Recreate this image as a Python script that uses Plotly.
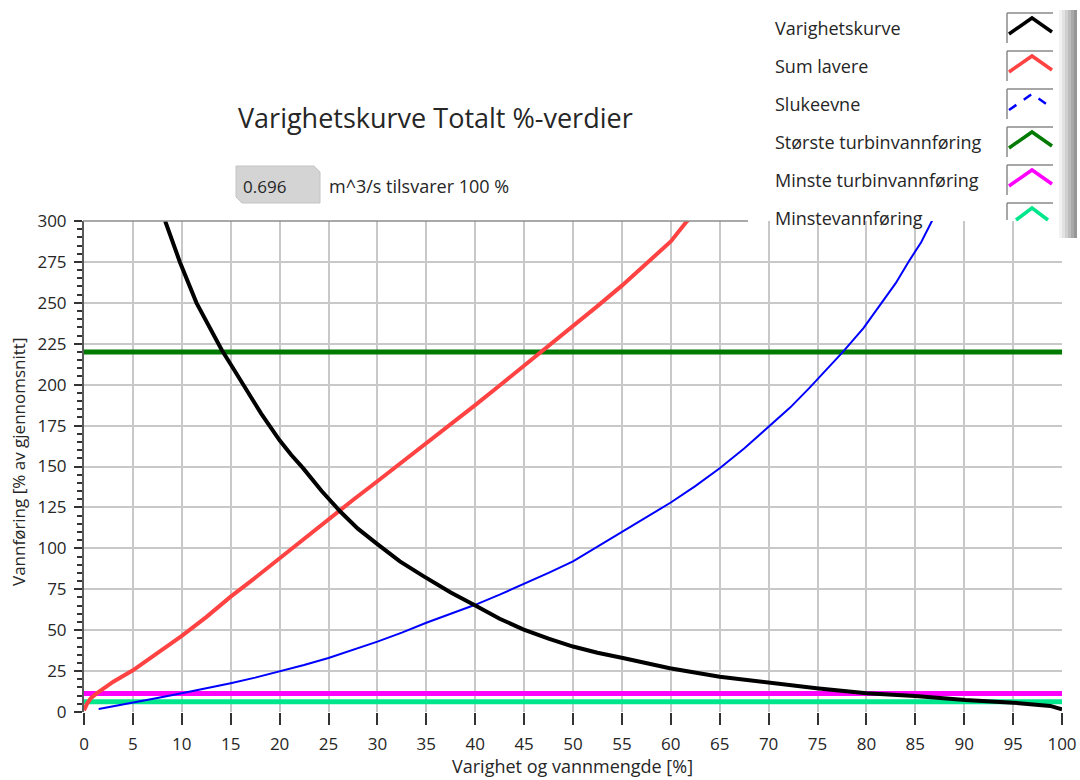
import plotly.graph_objects as go

# ---------------- data ----------------
varighet_x = [8.3, 9.8, 11.5, 12.8, 14.1, 15.2, 16.3, 18.1, 20.0, 21.2, 22.4, 24.3, 26.2,
              28.0, 29.9, 32.3, 34.7, 37.5, 40.2, 42.5, 44.9, 47.5, 50.0, 52.5, 55.1,
              57.5, 59.9, 65.0, 69.8, 74.9, 80.0, 85.0, 90.1, 95.0, 98.8, 99.5, 100.0]
varighet_y = [300, 275, 250, 235, 221, 210.5, 200, 182.5, 166, 157, 149, 135, 122.5,
              112, 103, 92, 83, 73, 64.5, 57, 50.5, 44.8, 40, 36.2, 33,
              29.6, 26.7, 21.6, 17.9, 14.5, 11.4, 9.8, 7.3, 5.7, 3.7, 2.8, 1.6]

sum_lavere_x = [0, 0.3, 0.7, 1.3, 3, 5, 7.5, 10, 12.5, 15, 17.5, 20, 22.5, 25, 27.5,
                30, 32.5, 35, 37.5, 40, 42.5, 45, 46.6, 50, 52.5, 55, 57.5, 60, 61.6, 62.0]
sum_lavere_y = [1, 5, 8.5, 11.4, 18.5, 25.5, 36, 46.5, 58, 70.5, 82, 94, 106, 118, 129.5,
                141, 152.5, 164, 176, 187.5, 199.5, 211.5, 219.5, 235.5, 248, 260.5, 274,
                287.5, 299.5, 302]

slukeevne_x = [1.5, 5, 7.5, 10, 12.5, 15, 17.5, 20, 22.5, 25, 27.5, 30, 32.5, 35,
               37.5, 40, 42.5, 45, 47.5, 50, 52.5, 55, 57.5, 60, 62.5, 65, 67.5, 70,
               72.2, 74.2, 76.0, 77.6, 79.7, 81.6, 83.0, 84.3, 85.6, 86.7, 86.9]
slukeevne_y = [1.8, 5.5, 8.5, 11.4, 14.3, 17.6, 21, 24.8, 28.7, 33, 37.8, 43, 48.5, 54.5,
               60, 65.5, 71.7, 78.3, 85, 92, 101, 110, 119, 128, 138, 148.9, 161, 174,
               186, 198.2, 209.5, 220, 234.5, 250, 262, 275, 287, 300, 302]

storste_turbin = 220
minste_turbin = 11.3
minstevannforing = 6.2
x_span = [0, 100]

x_ticks = list(range(0, 101, 5))
y_ticks = list(range(0, 301, 25))

legend_names = ["Varighetskurve", "Sum lavere", "Slukeevne", "Største turbinvannføring",
                "Minste turbinvannføring", "Minstevannføring"]
legend_colors = ["#000000", "#ff4242", "#0000ff", "#007a00", "#ff00ff", "#00e68c"]

title_text = "Varighetskurve Totalt %-verdier"
numeric_value = "0.696"
numeric_label = "m^3/s tilsvarer 100 %"
x_title = "Varighet og vannmengde [%]"
y_title = "Vannføring [% av gjennomsnitt]"

# ---------------- figure ----------------
W, H = 1080, 780
L, R, T, B = 84, 1062, 221, 712  # plot area in pixels


def px(x):
    return (x - L) / (R - L)


def py(y):
    return (B - y) / (B - T)


FONT = "Open Sans"
TXT = "#262626"

fig = go.Figure()

# horizontal reference lines first (curves drawn on top)
fig.add_trace(go.Scatter(x=x_span, y=[storste_turbin] * 2, mode="lines",
                         line=dict(color=legend_colors[3], width=5), name=legend_names[3]))
fig.add_trace(go.Scatter(x=x_span, y=[minste_turbin] * 2, mode="lines",
                         line=dict(color=legend_colors[4], width=5), name=legend_names[4]))
fig.add_trace(go.Scatter(x=x_span, y=[minstevannforing] * 2, mode="lines",
                         line=dict(color=legend_colors[5], width=5), name=legend_names[5]))
fig.add_trace(go.Scatter(x=slukeevne_x, y=slukeevne_y, mode="lines",
                         line=dict(color=legend_colors[2], width=2), name=legend_names[2]))
fig.add_trace(go.Scatter(x=sum_lavere_x, y=sum_lavere_y, mode="lines",
                         line=dict(color=legend_colors[1], width=4), name=legend_names[1]))
fig.add_trace(go.Scatter(x=varighet_x, y=varighet_y, mode="lines",
                         line=dict(color=legend_colors[0], width=4), name=legend_names[0]))

shapes = []
annotations = []

# top frame line (stops where the legend panel begins)
shapes.append(dict(type="line", xref="paper", yref="paper", x0=px(L - 1), x1=px(748),
                   y0=1, y1=1, line=dict(color="#8c8c8c", width=1.5), layer="above"))

# title
annotations.append(dict(text=title_text, xref="paper", yref="paper", x=px(435), y=py(118),
                        showarrow=False, xanchor="center", yanchor="middle",
                        font=dict(family=FONT, size=27, color=TXT)))

# numeric control
path = "M {} {} L {} {} L {} {} L {} {} L {} {} L {} {} Z".format(
    px(236), py(166), px(314), py(166), px(320), py(172), px(320), py(203),
    px(242), py(203), px(236), py(197))
shapes.append(dict(type="path", xref="paper", yref="paper", path=path,
                   fillcolor="#d4d4d4", line=dict(color="#c4c4c4", width=1)))
annotations.append(dict(text=numeric_value, xref="paper", yref="paper", x=px(241), y=py(186),
                        showarrow=False, xanchor="left", yanchor="middle",
                        font=dict(family=FONT, size=17, color=TXT)))
annotations.append(dict(text=numeric_label, xref="paper", yref="paper", x=px(327), y=py(186),
                        showarrow=False, xanchor="left", yanchor="middle",
                        font=dict(family=FONT, size=18, color=TXT)))

# custom legend panel
row_tops = [13, 51, 89, 127, 165, 203]
for i, (name, col) in enumerate(zip(legend_names, legend_colors)):
    t = row_tops[i]
    annotations.append(dict(text=name, xref="paper", yref="paper", x=px(773), y=py(t + 15),
                            showarrow=False, xanchor="left", yanchor="middle",
                            font=dict(family=FONT, size=18, color=TXT)))
    bottom = min(t + 30, 220)
    shapes.append(dict(type="line", xref="paper", yref="paper", x0=px(1007), x1=px(1053),
                       y0=py(t), y1=py(t), line=dict(color="#8a8a8a", width=1.5)))
    shapes.append(dict(type="line", xref="paper", yref="paper", x0=px(1007), x1=px(1007),
                       y0=py(t), y1=py(bottom), line=dict(color="#8a8a8a", width=1.5)))
    if i < 5:
        cpath = "M {} {} L {} {} L {} {}".format(px(1009), py(t + 21), px(1032), py(t + 5),
                                                 px(1052), py(t + 19))
    else:
        cpath = "M {} {} L {} {} L {} {}".format(px(1016), py(220), px(1032), py(t + 5),
                                                 px(1048), py(220))
    dash = "dash" if i == 2 else "solid"
    shapes.append(dict(type="path", xref="paper", yref="paper", path=cpath,
                       line=dict(color=col, width=3.5 if i != 2 else 2.5, dash=dash)))

# scrollbar (grey gradient strips)
strip_cols = ["#f2f2f2", "#e2e2e2", "#d0d0d0", "#bdbdbd", "#a9a9a9", "#969696"]
sx0, sw = 1059, 3
for k, c in enumerate(strip_cols):
    shapes.append(dict(type="rect", xref="paper", yref="paper",
                       x0=px(sx0 + k * sw), x1=px(sx0 + (k + 1) * sw),
                       y0=py(238), y1=py(10), fillcolor=c, line=dict(width=0)))

# axis titles
annotations.append(dict(text=x_title, xref="paper", yref="paper", x=px(572), y=py(766),
                        showarrow=False, xanchor="center", yanchor="middle",
                        font=dict(family=FONT, size=18, color=TXT)))
annotations.append(dict(text=y_title, xref="paper", yref="paper", x=px(18), y=py(462),
                        showarrow=False, xanchor="center", yanchor="middle", textangle=-90,
                        font=dict(family=FONT, size=17, color=TXT)))

fig.update_layout(
    width=W, height=H,
    margin=dict(l=L, r=W - R, t=T, b=H - B, autoexpand=False),
    paper_bgcolor="white", plot_bgcolor="white",
    showlegend=False,
    shapes=shapes, annotations=annotations,
    font=dict(family=FONT, color=TXT),
)

fig.update_xaxes(range=[0, 100], tickvals=x_ticks, ticktext=[str(v) for v in x_ticks],
                 showgrid=True, gridcolor="#c8c8c8", gridwidth=1.5,
                 ticks="outside", ticklen=12, tickwidth=1.5, tickcolor="#333333",
                 tickfont=dict(family=FONT, size=17, color=TXT),
                 showline=False, zeroline=False, ticklabelstandoff=5)
fig.update_yaxes(range=[0, 300], tickvals=y_ticks, ticktext=[str(v) for v in y_ticks],
                 showgrid=True, gridcolor="#c8c8c8", gridwidth=1.5,
                 ticks="outside", ticklen=8, tickwidth=1.5, tickcolor="#333333",
                 minor=dict(dtick=5, ticks="outside", ticklen=5, tickcolor="#333333",
                            showgrid=False),
                 tickfont=dict(family=FONT, size=17, color=TXT),
                 showline=True, linecolor="#5a5a5a", linewidth=2,
                 zeroline=False, ticklabelstandoff=4)

fig.write_html("out.html", config={"displayModeBar": False},
               post_script="document.body.style.margin='0';document.body.style.overflow='hidden';")
